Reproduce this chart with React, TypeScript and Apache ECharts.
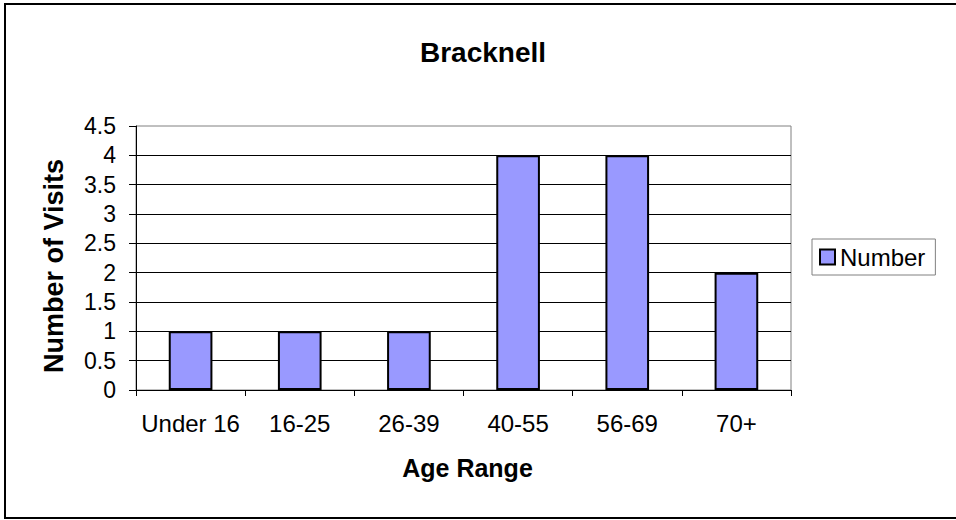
import React, { useEffect, useRef } from "react";
import * as echarts from "echarts";

const categories = ["Under 16", "16-25", "26-39", "40-55", "56-69", "70+"];
const visits = [1, 1, 1, 4, 4, 2];
const seriesName = "Number";
const titleText = "Bracknell";
const xAxisName = "Age Range";
const yAxisName = "Number of Visits";

const FONT = "'Liberation Sans', Arial, sans-serif";

export default function App() {
  const ref = useRef<HTMLDivElement>(null);
  useEffect(() => {
    if (!ref.current) return;
    const chart = echarts.init(ref.current, null, { renderer: "svg" });
    chart.setOption({
      animation: false,
      backgroundColor: "#ffffff",
      textStyle: { fontFamily: FONT, color: "#000" },
      title: {
        text: titleText,
        left: 420,
        top: 38,
        padding: 0,
        textStyle: { fontFamily: FONT, fontSize: 28, fontWeight: "bold", color: "#000" },
      },
      legend: {
        data: [seriesName],
        orient: "vertical",
        left: 812,
        top: 239,
        padding: [6, 10, 6, 7],
        borderColor: "#808080",
        borderWidth: 1,
        itemWidth: 15,
        itemHeight: 15,
        itemGap: 0,
        icon: "rect",
        itemStyle: { color: "#9999ff", borderColor: "#000", borderWidth: 2 },
        textStyle: { fontFamily: FONT, fontSize: 24, color: "#000", padding: [0, 0, 0, 0] },
      },
      grid: {
        left: 136,
        top: 126,
        width: 655,
        height: 264,
        show: true,
        borderColor: "#808080",
        borderWidth: 1,
        backgroundColor: "transparent",
        containLabel: false,
      },
      xAxis: {
        type: "category",
        data: categories,
        name: xAxisName,
        nameLocation: "middle",
        nameGap: 65,
        nameTextStyle: { fontFamily: FONT, fontSize: 25, fontWeight: "bold", color: "#000", padding: [0, 0, 0, 8] },
        axisLine: { show: true, lineStyle: { color: "#000", width: 1 } },
        axisTick: { show: true, length: 6, lineStyle: { color: "#000" } },
        axisLabel: { fontFamily: FONT, fontSize: 24, color: "#000", margin: 21, interval: 0 },
        splitLine: { show: false },
      },
      yAxis: {
        type: "value",
        min: 0,
        max: 4.5,
        interval: 0.5,
        name: yAxisName,
        nameLocation: "middle",
        nameGap: 69,
        nameTextStyle: { fontFamily: FONT, fontSize: 27, fontWeight: "bold", color: "#000", padding: [0, 16, 0, 0] },
        axisLine: { show: true, lineStyle: { color: "#000", width: 1 } },
        axisTick: { show: true, length: 7, lineStyle: { color: "#000" } },
        axisLabel: { fontFamily: FONT, fontSize: 23, color: "#000", margin: 20 },
        splitLine: { show: true, showMaxLine: false, lineStyle: { color: "#000", width: 1 } },
      },
      series: [
        {
          name: seriesName,
          type: "bar",
          data: visits,
          barWidth: "40%",
          itemStyle: { color: "#9999ff", borderColor: "#000", borderWidth: 2 },
        },
      ],
      graphic: [
        {
          type: "rect",
          shape: { x: 5, y: 4, width: 970, height: 514 },
          style: { fill: "none", stroke: "#000", lineWidth: 2 },
          silent: true,
          z: 100,
        },
      ],
    });
    return () => chart.dispose();
  }, []);
  return (
    <div
      ref={ref}
      style={{ position: "absolute", left: 0, top: 0, width: 956, height: 520 }}
    />
  );
}
